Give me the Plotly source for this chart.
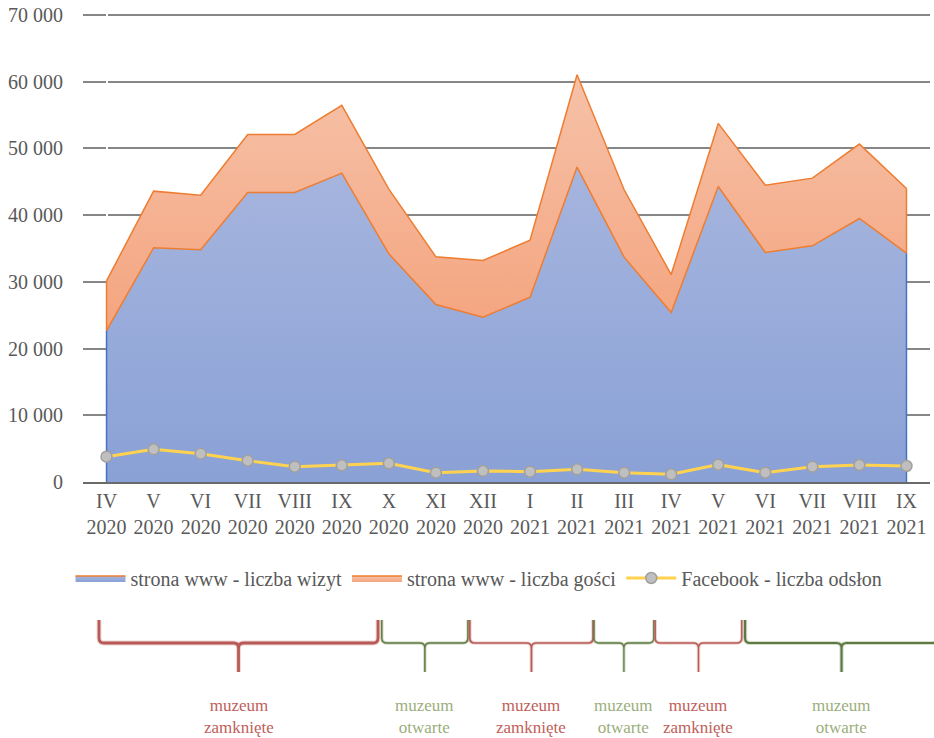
import plotly.graph_objects as go

months = ["IV", "V", "VI", "VII", "VIII", "IX", "X", "XI", "XII",
          "I", "II", "III", "IV", "V", "VI", "VII", "VIII", "IX"]
years = ["2020"] * 9 + ["2021"] * 9
tick_labels = [f"{m}<br>{y}" for m, y in zip(months, years)]

wizyty = [22700, 35100, 34800, 43400, 43400, 46300, 34200, 26600, 24700,
          27700, 47200, 33700, 25400, 44300, 34400, 35400, 39500, 34300]
goscie = [7450, 8500, 8200, 8700, 8700, 10150, 9700, 7150, 8500,
          8550, 13850, 10100, 5700, 9450, 10100, 10150, 11150, 9700]
facebook = [3800, 4900, 4250, 3200, 2300, 2500, 2800, 1400, 1650,
            1550, 1900, 1400, 1150, 2600, 1400, 2300, 2550, 2400]

# museum periods along the category axis (start, end, label, state)
period_start = [-0.16, 5.85, 7.72, 10.36, 11.66, 13.57]
period_end = [5.77, 7.68, 10.34, 11.63, 13.50, 17.67]
period_label = ["muzeum<br>zamknięte", "muzeum<br>otwarte", "muzeum<br>zamknięte",
                "muzeum<br>otwarte", "muzeum<br>zamknięte", "muzeum<br>otwarte"]
period_closed = [True, False, True, False, True, False]

x = list(range(len(months)))
FONT = "Liberation Serif"
GREY = "#595959"
ORANGE = "#ed7d31"
BLUE = "#4472c4"

fig = go.Figure()
fig.add_trace(go.Scatter(
    x=x, y=wizyty, name="strona www - liczba wizyt", stackgroup="a",
    mode="lines", line=dict(color=ORANGE, width=1.5),
    fillcolor="#98abd9",
    fillgradient=dict(type="vertical", start=0, stop=47500,
                      colorscale=[[0, "#8aa1d6"], [1, "#a6b5de"]]),
))
fig.add_trace(go.Scatter(
    x=x, y=goscie, name="strona www - liczba gości", stackgroup="a",
    mode="lines", line=dict(color=ORANGE, width=1.5),
    fillcolor="#f5b090",
    fillgradient=dict(type="vertical", start=22000, stop=61500,
                      colorscale=[[0, "#f4a47e"], [1, "#f6c2a9"]]),
))
# side edges of the areas
for i in (0, len(x) - 1):
    fig.add_trace(go.Scatter(x=[x[i], x[i]], y=[0, wizyty[i]], mode="lines",
                             line=dict(color=BLUE, width=1.5),
                             showlegend=False, hoverinfo="skip"))
    fig.add_trace(go.Scatter(x=[x[i], x[i]], y=[wizyty[i], wizyty[i] + goscie[i]],
                             mode="lines", line=dict(color=ORANGE, width=1.5),
                             showlegend=False, hoverinfo="skip"))
fig.add_trace(go.Scatter(
    x=x, y=facebook, name="Facebook - liczba odsłon", mode="lines+markers",
    line=dict(color="#ffd24f", width=3),
    marker=dict(size=11, color="#bfbfbf", line=dict(color="#a0a0a0", width=1.5)),
))

# braces under the chart (paper coordinates; plot area is 847 x 469 px)
N = len(months)
def xp(v):
    return (v + 0.5) / N

PL, PW, PH = 83, 847, 469
TOP = 13
def yp(py):
    # window pixel row -> paper coordinate
    return (TOP + PH - py) / PH

yt, ym, yb = yp(620), yp(643), yp(672)
rx, ry = 5 / PW, 5 / PH
shapes, annotations = [], []
for s, e, lab, closed in zip(period_start, period_end, period_label, period_closed):
    x0, x1 = xp(s), xp(e)
    xm = (x0 + x1) / 2
    span_px = (x1 - x0) * PW
    w = 0.9 + span_px / 150
    col = "#b85a55" if closed else "#5f7a40"
    txtcol = "#c0605a" if closed else "#9bae7c"
    path = (f"M{x0},{yt} L{x0},{ym + ry} Q{x0},{ym} {x0 + rx},{ym} "
            f"L{xm - rx},{ym} Q{xm},{ym} {xm},{ym - ry} L{xm},{yb} "
            f"M{xm},{ym - ry} Q{xm},{ym} {xm + rx},{ym} "
            f"L{x1 - rx},{ym} Q{x1},{ym} {x1},{ym + ry} L{x1},{yt}")
    shapes.append(dict(type="path", xref="paper", yref="paper", path=path,
                       line=dict(color=col, width=w + 2), opacity=0.25, layer="above"))
    shapes.append(dict(type="path", xref="paper", yref="paper", path=path,
                       line=dict(color=col, width=w), layer="above"))
    annotations.append(dict(x=xm, y=yp(716), xref="paper", yref="paper", text=lab,
                            showarrow=False, xanchor="center", yanchor="middle",
                            font=dict(family=FONT, size=17, color=txtcol)))

fig.update_layout(
    width=934, height=738,
    margin=dict(l=PL, r=934 - PL - PW, t=TOP, b=738 - TOP - PH),
    paper_bgcolor="white", plot_bgcolor="white",
    separators=", ",
    font=dict(family=FONT, size=20, color=GREY),
    showlegend=True,
    legend=dict(orientation="h", x=(479 - PL) / PW, xanchor="center", y=yp(578),
                yanchor="middle",
                font=dict(family=FONT, size=20, color=GREY), itemwidth=50,
                traceorder="normal"),
    xaxis=dict(range=[-0.5, N - 0.5], tickmode="array", tickvals=x, ticktext=tick_labels,
               showgrid=False, showline=True, linecolor="#6a6a6a", linewidth=2,
               ticks="", tickfont=dict(family=FONT, size=20, color=GREY),
               automargin=False, fixedrange=True),
    yaxis=dict(range=[0, 70300], tickmode="linear", tick0=0, dtick=10000,
               tickformat=",d", showgrid=True,
               gridcolor="#868686", gridwidth=1.5, zeroline=False, showline=False,
               ticks="outside", ticklen=15, tickcolor="rgba(0,0,0,0)", automargin=False,
               ticklabeloverflow="allow",
               tickfont=dict(family=FONT, size=20, color=GREY), fixedrange=True),
    shapes=shapes, annotations=annotations,
)

# remove the default page margin so the 934x738 figure fills the window exactly
fig.write_html("out.html", config={"displayModeBar": False},
               post_script="document.body.style.margin='0';")
